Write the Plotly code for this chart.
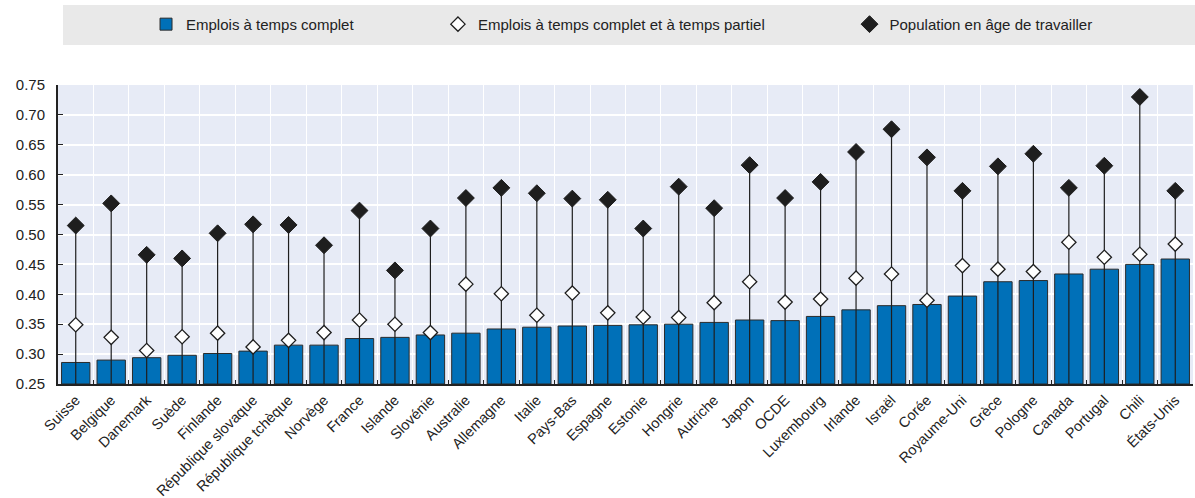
import plotly.graph_objects as go

countries = ["Suisse", "Belgique", "Danemark", "Suède", "Finlande", "République slovaque",
             "République tchèque", "Norvège", "France", "Islande", "Slovénie", "Australie",
             "Allemagne", "Italie", "Pays-Bas", "Espagne", "Estonie", "Hongrie", "Autriche",
             "Japon", "OCDE", "Luxembourg", "Irlande", "Israël", "Corée", "Royaume-Uni",
             "Grèce", "Pologne", "Canada", "Portugal", "Chili", "États-Unis"]

full_time = [0.286, 0.290, 0.294, 0.298, 0.301, 0.305, 0.315, 0.315, 0.326, 0.328, 0.332,
             0.335, 0.342, 0.345, 0.347, 0.348, 0.349, 0.350, 0.353, 0.357, 0.356, 0.363,
             0.374, 0.381, 0.383, 0.397, 0.421, 0.423, 0.434, 0.442, 0.450, 0.459]

full_part = [0.349, 0.328, 0.306, 0.329, 0.335, 0.312, 0.323, 0.336, 0.357, 0.350, 0.336,
             0.417, 0.401, 0.365, 0.402, 0.369, 0.362, 0.361, 0.386, 0.421, 0.387, 0.392,
             0.427, 0.434, 0.390, 0.448, 0.442, 0.438, 0.487, 0.462, 0.467, 0.484]

working_age = [0.515, 0.552, 0.466, 0.460, 0.502, 0.517, 0.516, 0.482, 0.540, 0.440, 0.510,
               0.561, 0.578, 0.569, 0.560, 0.558, 0.510, 0.580, 0.544, 0.616, 0.561, 0.588,
               0.638, 0.676, 0.629, 0.573, 0.614, 0.635, 0.578, 0.615, 0.730, 0.573]

y_min, y_max = 0.25, 0.75
y_ticks = [0.25, 0.30, 0.35, 0.40, 0.45, 0.50, 0.55, 0.60, 0.65, 0.70, 0.75]

FONT = "Liberation Sans, Arial, sans-serif"

fig = go.Figure()

fig.add_trace(go.Bar(
    x=countries, y=[v - y_min for v in full_time], base=y_min,
    name="Emplois à temps complet",
    marker=dict(color="#0070b8", line=dict(color="#2b2b2b", width=1)),
    legend="legend",
))

fig.add_trace(go.Scatter(
    x=countries, y=working_age, mode="markers",
    name="Population en âge de travailler",
    marker=dict(symbol="diamond", size=13, color="#1e1e1e", line=dict(color="#1e1e1e", width=1)),
    error_y=dict(type="data", symmetric=False,
                 array=[0] * len(working_age),
                 arrayminus=[v - y_min for v in working_age],
                 width=0, thickness=1.2, color="#1e1e1e"),
    legend="legend3",
))

fig.add_trace(go.Scatter(
    x=countries, y=full_part, mode="markers",
    name="Emplois à temps complet et à temps partiel",
    marker=dict(symbol="diamond", size=11, color="white", line=dict(color="#1e1e1e", width=1.3)),
    legend="legend2",
))

legend_common = dict(orientation="h", yanchor="middle", yref="container", y=0.951,
                     xanchor="left", xref="container",
                     bgcolor="rgba(0,0,0,0)", font=dict(family=FONT, size=15, color="#222"),
                     itemwidth=30, tracegroupgap=0)

fig.update_layout(
    width=1195, height=498,
    margin=dict(l=58, r=2, t=85, b=114, autoexpand=False),
    paper_bgcolor="white",
    plot_bgcolor="#e7ebf6",
    bargap=0.2,
    showlegend=True,
    legend=dict(legend_common, x=0.1222),
    legend2=dict(legend_common, x=0.3665),
    legend3=dict(legend_common, x=0.7109),
    shapes=[dict(type="rect", xref="paper", yref="paper",
                 x0=(63 - 58) / 1135, x1=(1195 - 58) / 1135,
                 y0=(384 - 45) / 299, y1=(384 - 5) / 299,
                 fillcolor="#e9e9e9", line=dict(width=0), layer="below")],
    xaxis=dict(
        type="category", tickson="boundaries", ticks="inside", ticklen=4,
        tickcolor="#222", showgrid=True, gridcolor="white", gridwidth=1,
        showline=True, linecolor="#222", linewidth=2, automargin=False,
        tickangle=-45, tickfont=dict(family=FONT, size=14.5, color="#222"),
        range=[-0.5, len(countries) - 0.5],
    ),
    yaxis=dict(
        range=[y_min, y_max], tickvals=y_ticks, tickformat=".2f",
        ticks="inside", ticklen=5, tickcolor="#222", ticklabelstandoff=8,
        showgrid=True, gridcolor="white", gridwidth=1.5, automargin=False,
        showline=True, linecolor="#222", linewidth=2, zeroline=False,
        tickfont=dict(family=FONT, size=15, color="#222"),
    ),
)

fig.write_html("out.html",
               config={"displayModeBar": False},
               post_script="document.body.style.margin='0';document.body.style.overflow='hidden';")
